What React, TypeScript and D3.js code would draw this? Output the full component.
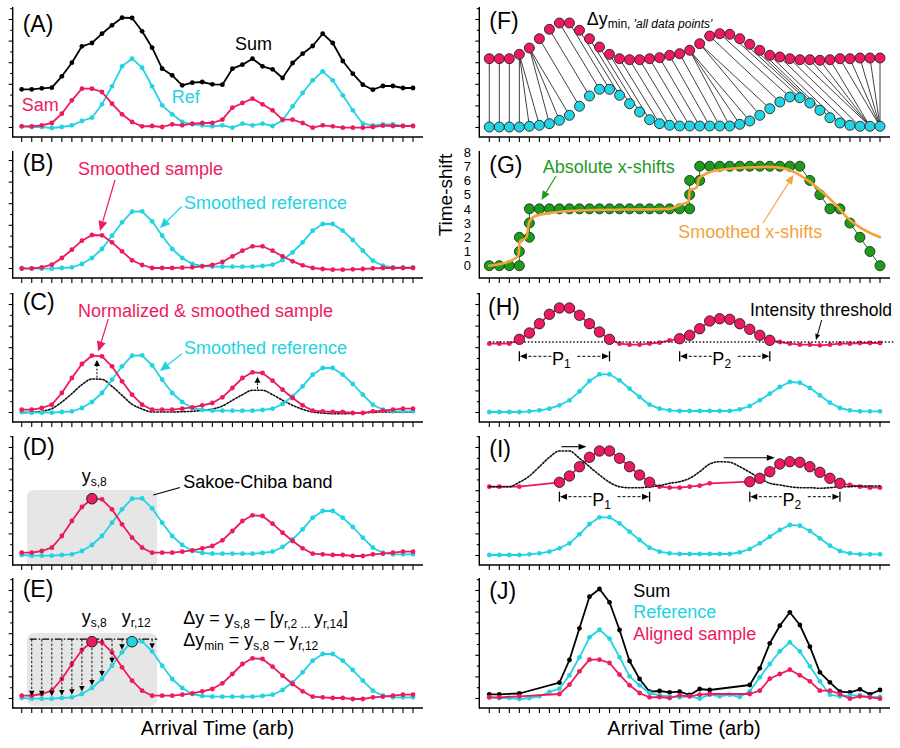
import React from "react";
import * as d3 from "d3";

// ---------- data (arbitrary intensity units) ----------
const sampleRaw = [10.7,10.7,11.7,14,23.3,36.7,48.3,48.3,45,33.3,22.7,15,10.7,11,10,12.7,11.7,13.3,14,14,17.3,29.3,34,38.3,32.7,26.7,17.3,17.3,14,9.3,11.7,10.7,9.3,9.3,9.3,10,11.3,11,11,11];
const referenceRaw = [10.7,10,10,9,10,11.7,16,19.3,32.7,50.7,70.7,78.3,69.3,50.7,31.7,22.7,15,12.7,11.7,10.7,11.7,9.3,13.3,11.7,13.3,11,16.7,30.7,44,56.7,65.7,56.7,41.7,26.7,13.3,11.7,12.7,12.7,11,11];
const sumRaw = [47.7,47.7,48.7,49.3,60.7,74.3,90.7,94,103.3,111.7,119.3,119,105.7,89.3,68.3,61.7,51.7,54.3,55,52.7,52.3,68.3,72.3,78.3,70.7,67.7,59,74,83.3,91,103.3,94,76,63.3,52.3,47.3,51,51,49,49];
const sampleSmoothed = [9.3,9.7,10.7,13.3,20,28.3,37.3,43,42.7,35.7,26.7,17.7,13,10,10,10,10.3,10.7,11.7,13,16,21.7,27.3,31.7,31.7,27.3,21.7,16.7,12.7,10,9,8.3,8.3,8.7,9,9.7,10,10,10,10];
const sampleNormalized = [12.3,12.3,14,17.3,29,44,58,66.3,65.7,55.7,40.7,27.3,17.3,12.3,12.3,12.3,13.3,14.7,16.7,19,24.7,34,44,49.7,49,41.3,32.3,24,16.7,11.3,10.7,10,10,9,9,10.7,11.3,12.3,13.3,13.3];
const referenceSmoothed = [10,9.3,9.3,9.3,10,10.7,14,20,29,42.3,55.7,66.3,66.7,56.7,42.3,29,20,14,12,11.3,11.3,11.3,11.3,11.3,12,13.3,18,25.7,35.7,47.3,54,54,47.3,38,27.3,17.3,12.3,10.7,10.7,10.7];
const sampleF = [78.3,78.3,78.3,82.7,89,98.3,107.7,114,114,106.7,98.3,90,82.7,78.3,77.3,77.3,78.3,79.3,81.7,83.3,86.7,93.3,101,103.3,102.7,98.3,92.7,86.7,81.7,80,78.3,77.3,77.3,76.7,77.3,78.3,78.3,79,79,79];
const referenceF = [10,10,10,10,10.7,11.7,13.3,16.7,21.7,30.7,41,47.7,47.7,41.7,33.3,25,17.3,13.3,11.7,11,11,11,11,11,11,12.7,16,21.7,28.3,35,40,39.3,34,26.7,19.3,14,11.7,10.7,10.7,10.7];

// warping path: sample index and absolute time-shift
const pathIdx = [0,1,2,3,3,3,4,4,4,5,6,7,8,9,10,11,12,13,14,15,16,17,18,19,20,20,20,21,21,22,23,24,25,26,27,28,29,30,31,32,33,34,35,36,37,38,39];
const pathShift = [0,0,0,0,1,2,2,3,4,4,4,4,4,4,4,4,4,4,4,4,4,4,4,4,4,5,6,6,7,7,7,7,7,7,7,7,7,7,7,6,5,4,4,3,2,1,0];
const smoothIdx = [0,1,2,2.9,3.05,3.7,4.0,4.6,6,9.5,18,19.1,19.9,20.0,20.7,20.9,21.7,23.7,27.7,29.4,30.7,32,33.4,34.7,35.7,37,39];
const smoothShift = [0,0.1,0.3,0.7,1.7,2.0,3.1,3.5,3.7,3.9,4.0,4.3,4.5,5.3,5.5,6.1,6.5,6.8,6.95,6.85,6.5,5.9,5.1,4.2,3.4,2.7,2.0];
const shiftTicks = [0,1,2,3,4,5,6,7,8];

const peakRanges = [[3, 12], [19, 28]];
const alignedPos = [0,1,3,7,8,9,10,11,12,13,14,15,16,17,18,19,20,21,22,26,27,28,29,30,31,32,33,34,35,36,37,38,39];
const alignedSrc = [0,1,2,3,4,5,6,7,8,9,10,11,12,13,14,15,16,17,18,19,20,21,22,23,24,25,26,27,28,29,30,31,32];
const sumAligned = [13.7,13.7,14.5,25.3,48,79.7,111.3,119,105.7,78,47,29,16.3,17,15.7,16.3,13,19,18,23,39.7,64.7,82.3,95.7,83,61.3,35.7,25.7,16.3,15.7,18.7,13.7,18];

// ---------- layout ----------
const RED = "#ee1a5e";
const CYAN = "#22d3e2";
const GREEN = "#1f9a1f";
const ORANGE = "#f5a23a";
const FONT = "'Liberation Sans', Arial, Helvetica, sans-serif";

const N = 40;
const idx = d3.range(N);
const xL = d3.scaleLinear().domain([0, 39]).range([21.7, 413]);
const xR = d3.scaleLinear().domain([0, 39]).range([489.3, 880]);
const AXL = 12.7, AXR = 479.3, ENDL = 423, ENDR = 890;
const rows = [
  { top: 7, bottom: 137 },
  { top: 151, bottom: 278 },
  { top: 293, bottom: 422 },
  { top: 436, bottom: 565 },
  { top: 578, bottom: 708 },
];
const yS = rows.map((r) => d3.scaleLinear().domain([0, 130]).range([r.bottom, r.bottom - 130]));
const yG = d3.scaleLinear().domain([0, 8]).range([265.7, 152]);

type Pt = [number, number];
const isPeak = (i: number) => peakRanges.some(([a, b]) => i >= a && i <= b);

function P(x: d3.ScaleLinear<number, number>, y: d3.ScaleLinear<number, number>, vals: number[], pos?: number[]): Pt[] {
  return vals.map((v, k) => [x(pos ? pos[k] : k), y(v)] as Pt);
}

function Poly({ points, color, width = 1.8, dash, curve }: any) {
  const g = d3.line<Pt>().curve(curve ?? d3.curveLinear);
  return <path d={g(points) || ""} fill="none" stroke={color} strokeWidth={width} strokeDasharray={dash} strokeLinejoin="round" strokeLinecap="round" />;
}

function Dots({ points, color, r = 2.4, stroke, sw = 0.9 }: any) {
  return (
    <g>
      {points.map((p: Pt, k: number) => (
        <circle key={k} cx={p[0]} cy={p[1]} r={r} fill={color} stroke={stroke || "none"} strokeWidth={sw} />
      ))}
    </g>
  );
}

function Series({ points, color, width = 1.8, r = 2.4 }: any) {
  return (
    <g>
      <Poly points={points} color={color} width={width} />
      <Dots points={points} color={color} r={r} />
    </g>
  );
}

function Arrow({ x1, y1, x2, y2, color = "#000", width = 1, dash, len = 7, w = 6 }: any) {
  const a = Math.atan2(y2 - y1, x2 - x1);
  const bx = x2 - len * Math.cos(a), by = y2 - len * Math.sin(a);
  const px = (-Math.sin(a) * w) / 2, py = (Math.cos(a) * w) / 2;
  return (
    <g>
      <line x1={x1} y1={y1} x2={bx} y2={by} stroke={color} strokeWidth={width} strokeDasharray={dash} />
      <polygon points={`${x2},${y2} ${bx + px},${by + py} ${bx - px},${by - py}`} fill={color} />
    </g>
  );
}

function Frame({ x, x0, x1, top, bottom, yTicks = true }: any) {
  const yt = yTicks ? d3.range(9.5, bottom - top, 10.8) : [];
  return (
    <g stroke="#000" strokeWidth={1.4}>
      <line x1={x0} x2={x0} y1={top} y2={bottom + 0.7} />
      <line x1={x0} x2={x1} y1={bottom} y2={bottom} />
      {idx.map((i) => (
        <line key={i} x1={x(i)} x2={x(i)} y1={bottom} y2={bottom + 5} strokeWidth={1.1} />
      ))}
      {yt.map((v: number, k: number) => (
        <line key={"y" + k} x1={x0 - (k % 2 ? 2.5 : 4)} x2={x0} y1={bottom - v} y2={bottom - v} strokeWidth={1.1} />
      ))}
    </g>
  );
}

function Bracket({ x1, x2, y, label, sub }: any) {
  const mid = (x1 + x2) / 2;
  return (
    <g>
      <line x1={x1} x2={x1} y1={y - 5} y2={y + 5} stroke="#000" strokeWidth={1.3} />
      <line x1={x2} x2={x2} y1={y - 5} y2={y + 5} stroke="#000" strokeWidth={1.3} />
      <Arrow x1={mid - 13} y1={y} x2={x1 + 0.5} y2={y} dash="3,2" width={1} len={7} w={6} />
      <Arrow x1={mid + 13} y1={y} x2={x2 - 0.5} y2={y} dash="3,2" width={1} len={7} w={6} />
      <text x={mid - 3} y={y + 9} textAnchor="middle" fontSize={18} fontFamily={FONT}>
        {label}
        <tspan fontSize={12} dy={3}>{sub}</tspan>
      </text>
    </g>
  );
}

const panelLabels = [
  { t: "(A)", x: 22.7, y: 31.8 },
  { t: "(B)", x: 22.7, y: 170.8 },
  { t: "(C)", x: 22.7, y: 310 },
  { t: "(D)", x: 22.7, y: 455 },
  { t: "(E)", x: 22.7, y: 597 },
  { t: "(F)", x: 489.3, y: 28.5 },
  { t: "(G)", x: 489.3, y: 173 },
  { t: "(H)", x: 488, y: 315 },
  { t: "(I)", x: 489.3, y: 457 },
  { t: "(J)", x: 489.3, y: 598.5 },
];

export default function App() {
  const [yA, yB, yC, yD, yE] = yS;
  const [yF, , yH, yI, yJ] = yS;

  // E arrows targets
  const eLevel = sampleNormalized[7] + 2.5;
  const eArrowIdx = [1, 2, 3, 4, 5, 6, 7, 8, 9, 10, 13];

  // F pairs
  const pairs = pathIdx.map((i, k) => [i, i + pathShift[k]]);

  const bandX0 = xL(0.53), bandX1 = xL(13.5);
  const dTop = yD(75), dBot = rows[3].bottom, rr = 7;

  const alignedF = alignedSrc.map((s) => sampleF[s]);
  const alignedRaw = alignedSrc.map((s) => sampleRaw[s]);

  const smoothLine = (vals: number[], x: any, y: any) => P(x, y, vals);

  return (
    <svg width={900} height={748} style={{ position: "absolute", left: 0, top: 0, background: "#fff" }} fontFamily={FONT}>
      <rect x={0} y={0} width={900} height={748} fill="#fff" />

      {/* ---------- A ---------- */}
      <Frame x={xL} x0={AXL} x1={ENDL} top={rows[0].top} bottom={rows[0].bottom} />
      <Series points={P(xL, yA, referenceRaw)} color={CYAN} />
      <Series points={P(xL, yA, sampleRaw)} color={RED} />
      <Series points={P(xL, yA, sumRaw)} color="#000" />
      <text x={235} y={50} fontSize={18}>Sum</text>
      <text x={21.7} y={110.7} fontSize={18} fill={RED}>Sam</text>
      <text x={171.7} y={102.7} fontSize={18} fill={CYAN}>Ref</text>

      {/* ---------- B ---------- */}
      <Frame x={xL} x0={AXL} x1={ENDL} top={rows[1].top} bottom={rows[1].bottom} />
      <Series points={P(xL, yB, referenceSmoothed)} color={CYAN} />
      <Series points={P(xL, yB, sampleSmoothed)} color={RED} />
      <text x={78} y={174.7} fontSize={18} fill={RED}>Smoothed sample</text>
      <text x={184} y={208.7} fontSize={18} fill={CYAN}>Smoothed reference</text>
      <Arrow x1={115} y1={180} x2={100} y2={231} color={RED} width={1.2} len={10} w={9} />
      <Arrow x1={181.7} y1={206.5} x2={160} y2={228} color={CYAN} width={1.2} len={10} w={9} />

      {/* ---------- C ---------- */}
      <Frame x={xL} x0={AXL} x1={ENDL} top={rows[2].top} bottom={rows[2].bottom} />
      <Poly points={P(xL, yC, sampleSmoothed)} color="#111" width={1.6} dash="1.6,1.8" curve={d3.curveMonotoneX} />
      <Series points={P(xL, yC, referenceSmoothed)} color={CYAN} />
      <Series points={P(xL, yC, sampleNormalized)} color={RED} />
      {[7.5, 23.5].map((k) => {
        const lo = Math.floor(k);
        const dv = (sampleSmoothed[lo] + sampleSmoothed[lo + 1]) / 2;
        const rv = (sampleNormalized[lo] + sampleNormalized[lo + 1]) / 2;
        return <Arrow key={k} x1={xL(k)} y1={yC(dv + 1.5)} x2={xL(k)} y2={yC(rv - 4)} dash="2,1.5" width={1} len={6} w={6} />;
      })}
      <text x={78} y={317.3} fontSize={18} fill={RED}>Normalized &amp; smoothed sample</text>
      <text x={184} y={354} fontSize={18} fill={CYAN}>Smoothed reference</text>
      <Arrow x1={108.3} y1={319} x2={98.3} y2={351.5} color={RED} width={1.2} len={10} w={9} />
      <Arrow x1={181.7} y1={354} x2={160} y2={371} color={CYAN} width={1.2} len={10} w={9} />

      {/* ---------- D ---------- */}
      <path
        d={`M${bandX0},${dBot} L${bandX0},${dTop + rr} Q${bandX0},${dTop} ${bandX0 + rr},${dTop} L${bandX1 - rr},${dTop} Q${bandX1},${dTop} ${bandX1},${dTop + rr} L${bandX1},${dBot} Z`}
        fill="#e6e6e6"
      />
      <Frame x={xL} x0={AXL} x1={ENDL} top={rows[3].top} bottom={rows[3].bottom} />
      <Series points={P(xL, yD, referenceSmoothed)} color={CYAN} />
      <Series points={P(xL, yD, sampleNormalized)} color={RED} />
      <circle cx={xL(7)} cy={yD(sampleNormalized[7])} r={5.3} fill={RED} stroke="#222" strokeWidth={1} />
      <text x={81.7} y={481.7} fontSize={18}>
        y<tspan fontSize={12} dy={4}>s,8</tspan>
      </text>
      <line x1={153.3} y1={495} x2={180} y2={487.5} stroke="#000" strokeWidth={1.2} />
      <text x={183.3} y={487.7} fontSize={18}>Sakoe-Chiba band</text>

      {/* ---------- E ---------- */}
      <rect x={bandX0} y={yE(75)} width={bandX1 - bandX0} height={yE(2) - yE(75)} rx={rr} fill="#e6e6e6" />
      <Frame x={xL} x0={AXL} x1={ENDL} top={rows[4].top} bottom={rows[4].bottom} />
      <Series points={P(xL, yE, referenceSmoothed)} color={CYAN} />
      <Series points={P(xL, yE, sampleNormalized)} color={RED} />
      <line x1={xL(0.8)} x2={xL(13.5)} y1={yE(eLevel)} y2={yE(eLevel)} stroke="#000" strokeWidth={1.2} strokeDasharray="7,2,1.5,2" />
      {eArrowIdx.map((i) => (
        <Arrow key={i} x1={xL(i)} y1={yE(eLevel)} x2={xL(i)} y2={yE(referenceSmoothed[i]) - 2.5} dash="2.5,1.8" width={0.9} len={5.5} w={5.5} />
      ))}
      <circle cx={xL(7)} cy={yE(sampleNormalized[7])} r={5.3} fill={RED} stroke="#222" strokeWidth={1} />
      <circle cx={xL(11)} cy={yE(referenceSmoothed[11])} r={5.3} fill={CYAN} stroke="#222" strokeWidth={1} />
      <text x={81.7} y={623.3} fontSize={18}>
        y<tspan fontSize={12} dy={4}>s,8</tspan>
      </text>
      <text x={121.7} y={623.3} fontSize={18}>
        y<tspan fontSize={12} dy={4}>r,12</tspan>
      </text>
      <text x={183.3} y={624.3} fontSize={18}>
        Δy = y<tspan fontSize={12} dy={4}>s,8</tspan>
        <tspan dy={-4}> – [y</tspan>
        <tspan fontSize={12} dy={4}>r,2 ... </tspan>
        <tspan dy={-4}>y</tspan>
        <tspan fontSize={12} dy={4}>r,14</tspan>
        <tspan dy={-4}>]</tspan>
      </text>
      <text x={183.3} y={645.7} fontSize={18}>
        Δy<tspan fontSize={12} dy={4}>min</tspan>
        <tspan dy={-4}> = y</tspan>
        <tspan fontSize={12} dy={4}>s,8</tspan>
        <tspan dy={-4}> – y</tspan>
        <tspan fontSize={12} dy={4}>r,12</tspan>
      </text>
      <text x={217.5} y={735} fontSize={20} textAnchor="middle">Arrival Time (arb)</text>

      {/* ---------- F ---------- */}
      <Frame x={xR} x0={AXR} x1={ENDR} top={rows[0].top} bottom={rows[0].bottom} />
      {pairs.map(([i, j], k) => (
        <line key={k} x1={xR(i)} y1={yF(sampleF[i])} x2={xR(j)} y2={yF(referenceF[j])} stroke="#111" strokeWidth={0.8} />
      ))}
      <Dots points={P(xR, yF, referenceF)} color={CYAN} r={5} stroke="#222" />
      <Dots points={P(xR, yF, sampleF)} color={RED} r={5} stroke="#222" />
      <text x={586.7} y={25} fontSize={18}>
        Δy<tspan fontSize={12} dy={3}>min, </tspan>
        <tspan fontSize={12} fontStyle="italic">'all data points'</tspan>
      </text>

      {/* ---------- G ---------- */}
      <Frame x={xR} x0={AXR} x1={ENDR} top={rows[1].top} bottom={rows[1].bottom} yTicks={false} />
      {shiftTicks.map((t) => (
        <text key={t} x={471} y={yG(t)} dy="0.36em" fontSize={13} textAnchor="end">{t}</text>
      ))}
      <text transform="translate(452,195) rotate(-90)" fontSize={19} textAnchor="middle">Time-shift</text>
      <Poly points={pathIdx.map((i, k) => [xR(i), yG(pathShift[k])] as Pt)} color="#0d6e0d" width={1} />
      <Dots points={pathIdx.map((i, k) => [xR(i), yG(pathShift[k])] as Pt)} color={GREEN} r={5} stroke="#153515" />
      <Poly points={smoothIdx.map((i, k) => [xR(i), yG(smoothShift[k])] as Pt)} color={ORANGE} width={2.6} curve={d3.curveMonotoneX} />
      <text x={542.7} y={173} fontSize={18} fill={GREEN}>Absolute x-shifts</text>
      <Arrow x1={556} y1={176} x2={541.5} y2={200} color={GREEN} width={1.2} len={9} w={8} />
      <text x={678.3} y={238} fontSize={18} fill={ORANGE}>Smoothed x-shifts</text>
      <Arrow x1={763} y1={223} x2={793.5} y2={175} color={ORANGE} width={1.1} len={9} w={8} />

      {/* ---------- H ---------- */}
      <Frame x={xR} x0={AXR} x1={ENDR} top={rows[2].top} bottom={rows[2].bottom} />
      <Series points={P(xR, yH, referenceF)} color={CYAN} />
      <Poly points={P(xR, yH, sampleF)} color={RED} />
      <Dots points={P(xR, yH, sampleF).filter((_, i) => !isPeak(i))} color={RED} r={2.4} />
      <line x1={xR(0)} x2={895} y1={yH(80)} y2={yH(80)} stroke="#111" strokeWidth={1.5} strokeDasharray="1.5,2" />
      <Dots points={P(xR, yH, sampleF).filter((_, i) => isPeak(i))} color={RED} r={5.2} stroke="#222" />
      <text x={750} y={316.3} fontSize={17.5}>Intensity threshold</text>
      <Arrow x1={821.7} y1={320} x2={816} y2={340} width={1} len={6} w={5} />
      {peakRanges.map(([a, b], k) => (
        <Bracket key={k} x1={xR(a)} x2={xR(b)} y={yH(65.7)} label="P" sub={String(k + 1)} />
      ))}

      {/* ---------- I ---------- */}
      <Frame x={xR} x0={AXR} x1={ENDR} top={rows[3].top} bottom={rows[3].bottom} />
      <Series points={P(xR, yI, referenceF)} color={CYAN} />
      <Poly points={P(xR, yI, alignedF, alignedPos)} color={RED} />
      <Dots points={P(xR, yI, alignedF, alignedPos).filter((_, k) => !isPeak(alignedSrc[k]))} color={RED} r={2.4} />
      <Poly points={P(xR, yI, sampleF)} color="#111" width={1.6} dash="1.6,1.8" curve={d3.curveMonotoneX} />
      <Dots points={P(xR, yI, alignedF, alignedPos).filter((_, k) => isPeak(alignedSrc[k]))} color={RED} r={5.2} stroke="#222" />
      <Arrow x1={xR(7.2)} y1={yI(118.3)} x2={xR(9.7)} y2={yI(118.3)} width={1.1} len={8} w={6} />
      <Arrow x1={xR(23.4)} y1={yI(107.3)} x2={xR(28.5)} y2={yI(107.3)} width={1.1} len={8} w={6} />
      <Bracket x1={xR(7)} x2={xR(16)} y={yI(68.3)} label="P" sub="1" />
      <Bracket x1={xR(26)} x2={xR(35)} y={yI(68.3)} label="P" sub="2" />

      {/* ---------- J ---------- */}
      <Frame x={xR} x0={AXR} x1={ENDR} top={rows[4].top} bottom={rows[4].bottom} />
      <Series points={P(xR, yJ, sumAligned, alignedPos)} color="#000" />
      <Series points={P(xR, yJ, referenceRaw)} color={CYAN} />
      <Series points={P(xR, yJ, alignedRaw, alignedPos)} color={RED} />
      <text x={633.3} y={596.7} fontSize={18}>Sum</text>
      <text x={633.3} y={618.3} fontSize={18} fill={CYAN}>Reference</text>
      <text x={633.3} y={640} fontSize={18} fill={RED}>Aligned sample</text>
      <text x={684} y={735} fontSize={20} textAnchor="middle">Arrival Time (arb)</text>

      {/* panel labels */}
      {panelLabels.map((l) => (
        <text key={l.t} x={l.x} y={l.y} fontSize={23}>{l.t}</text>
      ))}
    </svg>
  );
}
